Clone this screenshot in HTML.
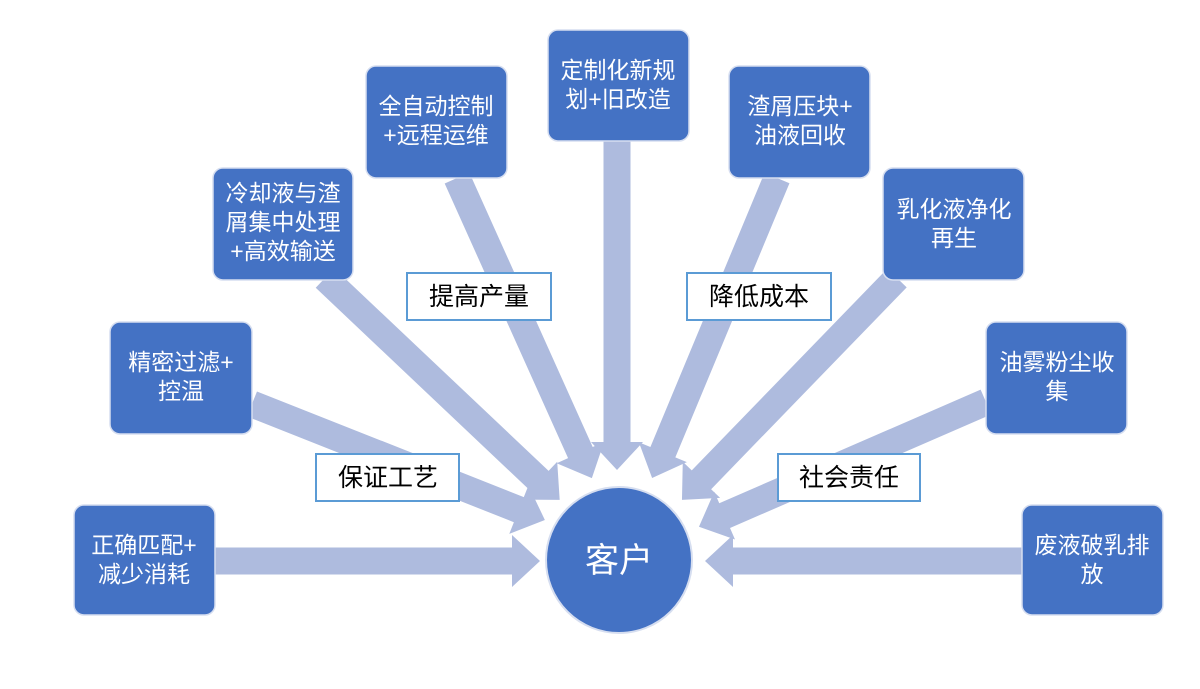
<!DOCTYPE html>
<html><head><meta charset="utf-8"><style>
html,body{margin:0;padding:0;background:#fff;width:1200px;height:689px;overflow:hidden}
.bt{font-family:"Liberation Sans","Noto Sans CJK SC",sans-serif;fill:#fff;font-size:23px;text-anchor:middle}
.lt{font-family:"Liberation Sans","Noto Sans CJK SC",sans-serif;fill:#000;font-size:25px;text-anchor:middle}
</style></head><body>
<svg width="1200" height="689" viewBox="0 0 1200 689" xmlns="http://www.w3.org/2000/svg">
<g fill="#AEBBDE">
<g transform="translate(215,561) rotate(0)"><polygon points="0,-13.5 297,-13.5 297,-26 325,0 297,26 297,13.5 0,13.5"/></g>
<g transform="translate(252,404) rotate(21.6)"><polygon points="0,-13.5 287,-13.5 287,-26 315,0 287,26 287,13.5 0,13.5"/></g>
<g transform="translate(325,278) rotate(43.4)"><polygon points="0,-13.5 295,-13.5 295,-26 323,0 295,26 295,13.5 0,13.5"/></g>
<g transform="translate(457,178) rotate(65.8)"><polygon points="0,-13.5 301,-13.5 301,-26 329,0 301,26 301,13.5 0,13.5"/></g>
<g transform="translate(617,140) rotate(90)"><polygon points="0,-13.5 302,-13.5 302,-26 330,0 302,26 302,13.5 0,13.5"/></g>
<g transform="translate(777,178) rotate(112.6)"><polygon points="0,-13.5 297,-13.5 297,-26 325,0 297,26 297,13.5 0,13.5"/></g>
<g transform="translate(897,278) rotate(134.1)"><polygon points="0,-13.5 281,-13.5 281,-26 309,0 281,26 281,13.5 0,13.5"/></g>
<g transform="translate(986,402) rotate(156.5)"><polygon points="0,-13.5 285,-13.5 285,-26 313,0 285,26 285,13.5 0,13.5"/></g>
<g transform="translate(1022,561) rotate(180)"><polygon points="0,-13.5 289,-13.5 289,-26 317,0 289,26 289,13.5 0,13.5"/></g>
</g>
<circle cx="619" cy="560" r="73" fill="#4472C4" stroke="#D6DEF0" stroke-width="2"/>
<text x="619" y="572" font-family="Liberation Sans,'Noto Sans CJK SC',sans-serif" font-size="34" fill="#fff" text-anchor="middle">客户</text>
<g fill="#4472C4" stroke="#D6DEF0" stroke-width="1.5">
<rect x="74" y="505" width="141" height="110" rx="10"/>
<rect x="110" y="322" width="142" height="112" rx="10"/>
<rect x="213" y="168" width="140" height="112" rx="10"/>
<rect x="366" y="66" width="141" height="112" rx="10"/>
<rect x="548" y="30" width="141" height="111" rx="10"/>
<rect x="729" y="66" width="141" height="112" rx="10"/>
<rect x="883" y="168" width="141" height="112" rx="10"/>
<rect x="986" y="322" width="141" height="112" rx="10"/>
<rect x="1022" y="505" width="141" height="110" rx="10"/>
</g>
<text class="bt" x="144" y="553">正确匹配+</text><text class="bt" x="144" y="582">减少消耗</text>
<text class="bt" x="181" y="370">精密过滤+</text><text class="bt" x="181" y="399">控温</text>
<text class="bt" x="283" y="201">冷却液与渣</text><text class="bt" x="283" y="230">屑集中处理</text><text class="bt" x="283" y="259">+高效输送</text>
<text class="bt" x="436" y="114">全自动控制</text><text class="bt" x="436" y="143">+远程运维</text>
<text class="bt" x="618" y="78">定制化新规</text><text class="bt" x="618" y="107">划+旧改造</text>
<text class="bt" x="800" y="114">渣屑压块+</text><text class="bt" x="800" y="143">油液回收</text>
<text class="bt" x="954" y="217">乳化液净化</text><text class="bt" x="954" y="246">再生</text>
<text class="bt" x="1057" y="370">油雾粉尘收</text><text class="bt" x="1057" y="399">集</text>
<text class="bt" x="1092" y="553">废液破乳排</text><text class="bt" x="1092" y="582">放</text>
<g fill="#fff" stroke="#5B9BD5" stroke-width="2">
<rect x="407" y="273" width="144" height="47"/>
<rect x="687" y="273" width="144" height="47"/>
<rect x="316" y="454" width="143" height="47"/>
<rect x="778" y="454" width="142" height="47"/>
</g>
<text class="lt" x="479" y="305">提高产量</text>
<text class="lt" x="759" y="305">降低成本</text>
<text class="lt" x="388" y="486">保证工艺</text>
<text class="lt" x="849" y="486">社会责任</text>
</svg>
</body></html>
